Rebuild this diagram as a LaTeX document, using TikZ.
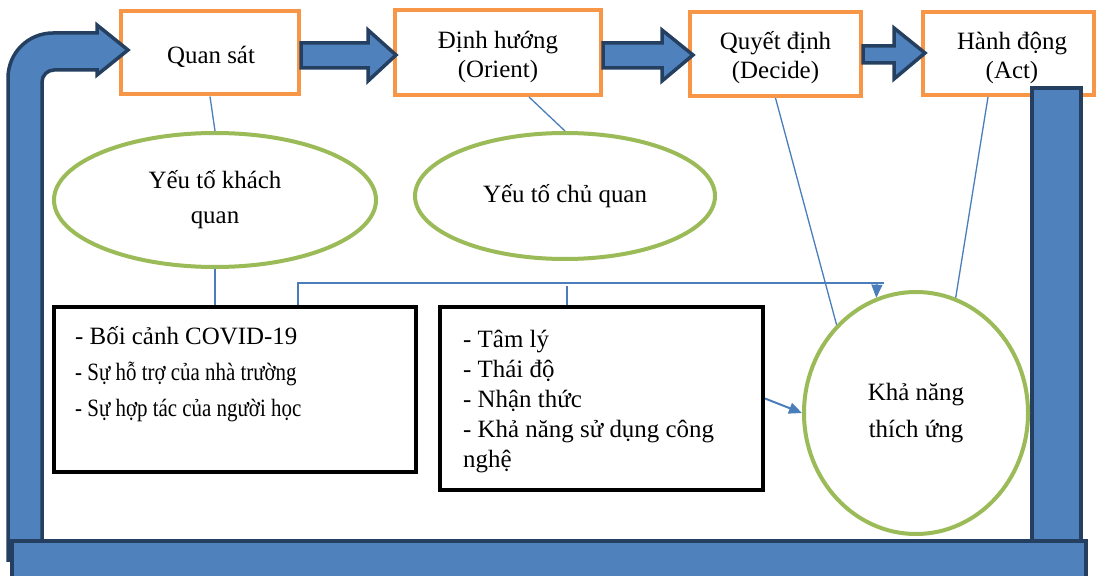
\documentclass[tikz,border=0pt]{standalone}
\usepackage{fontspec}
\setmainfont{Liberation Serif}
\usepackage{graphicx}
\usetikzlibrary{arrows.meta,calc,shapes.geometric}
\definecolor{orng}{HTML}{F79646}
\definecolor{grn}{HTML}{9BBB59}
\definecolor{blu}{HTML}{4F81BD}
\definecolor{dkb}{HTML}{243F60}
\definecolor{lnb}{HTML}{4A7EBB}
\begin{document}
\begin{tikzpicture}[x=1bp,y=-1bp,
  obox/.style={draw=orng, line width=4bp, fill=white, rectangle, inner sep=0pt},
  otxt/.style={inner sep=0pt, align=center, font=\fontsize{25}{29}\selectfont},
  gell/.style={draw=grn, line width=4bp, fill=white, ellipse, inner sep=0pt, align=center},
  kbox/.style={draw=black, line width=4bp, fill=white, rectangle, inner sep=0pt},
  blk/.style={fill=blu, draw=dkb, line width=3.5bp},
  conn/.style={draw=lnb, line width=1.3bp},
  tip/.style={-{Triangle[length=13bp,width=11bp]}}
]
\useasboundingbox (0,0) rectangle (1098,576);
\fill[white] (0,0) rectangle (1098,576);

% top boxes
\node[obox, minimum width=178bp, minimum height=83bp] (obs) at (210,53) {};
\node[obox, minimum width=206bp, minimum height=85bp] (ori) at (498,52.5) {};
\node[obox, minimum width=171bp, minimum height=84bp] (dec) at (775.5,54) {};
\node[obox, minimum width=171bp, minimum height=83bp] (act) at (1008,53.5) {};
\node[otxt] (obst) at (211,57) {Quan sát};
\node[otxt] (orit) at (498,57) {Định hướng\\(Orient)};
\node[otxt] (dect) at (775.5,58) {Quyết định\\(Decide)};
\node[otxt] (actt) at (1012,58) {Hành động\\(Act)};

% block arrows between boxes
\path[blk] (obs.east |- 0,43) -- (368,43) -- (368,30) -- (396,55) -- (368,81) -- (368,68) -- (obs.east |- 0,68) -- cycle;
\path[blk] (ori.east |- 0,43) -- (662,43) -- (662,30) -- (693,55) -- (662,81) -- (662,68) -- (ori.east |- 0,68) -- cycle;
\path[blk] (dec.east |- 0,46) -- (894,46) -- (894,28) -- (925,53) -- (894,79) -- (894,63) -- (dec.east |- 0,63) -- cycle;

% right bar
\path[blk] (1032,88) rectangle (1081,548);

% left bent arrow
\path[blk] (8,560) -- (8,78) .. controls (8,53) and (28,33) .. (53,33) -- (97,33) -- (97,25)
  -- (128,50) -- (97,75) -- (97,70) -- (54,70) .. controls (47.4,70) and (42,75.4) .. (42,82)
  -- (42,560) -- cycle;

% bottom bar
\path[blk] (12,541) rectangle (1086,584);

% connector bend points
\coordinate (j1) at (298,283);
\coordinate (j2) at (884,283);
\coordinate (j3) at (877,283);
\coordinate (c2) at (567,286);

% ellipses
\node[gell, minimum width=322bp, minimum height=134bp, font=\fontsize{25}{35}\selectfont] (ek) at (215,200) {Yếu tố khách\\quan};
\node[gell, minimum width=300bp, minimum height=126bp, font=\fontsize{25}{29}\selectfont] (ec) at (565,196) {Yếu tố chủ quan};
\node[gell, minimum width=224bp, minimum height=242bp, font=\fontsize{25}{37}\selectfont] (kn) at (916,413) {Khả năng\\thích ứng};

% black boxes
\node[kbox, minimum width=362bp, minimum height=165bp] (b1) at (235,389.5) {};
\node[kbox, minimum width=323bp, minimum height=183bp] (b2) at (601.5,398.5) {};

\node[anchor=north west, inner sep=0pt, align=left, font=\fontsize{25}{36.5}\selectfont] (t1) at (75,326)
  {- Bối cảnh COVID-19\\\scalebox{0.84}[1]{- Sự hỗ trợ của nhà trường}\\\scalebox{0.84}[1]{- Sự hợp tác của người học}};
\node[anchor=north west, inner sep=0pt, align=left, font=\fontsize{25}{30}\selectfont] (t2) at (463,330)
  {- Tâm lý\\- Thái độ\\- Nhận thức\\- Khả năng sử dụng công\\nghệ};

% lines
\draw[conn] (obs.south) -- (ek.north);
\draw[conn] ($(ori.south)+(31,0)$) -- (ec.north);
\draw[conn] (ek.south) -- (ek.south |- b1.north);
\draw[conn] (b1.north -| j1) -- (j1) -- (j2);
\draw[conn, tip] (j3) -- (kn.109);
\draw[conn] (c2) -- (c2 |- b2.north);
\draw[conn, tip, line width=2bp] (b2.east) -- (kn.west);
\draw[conn] (dec.south) -- (kn.132);
\draw[conn] ($(act.south)+(-20,0)$) -- (kn.71);
\end{tikzpicture}
\end{document}
